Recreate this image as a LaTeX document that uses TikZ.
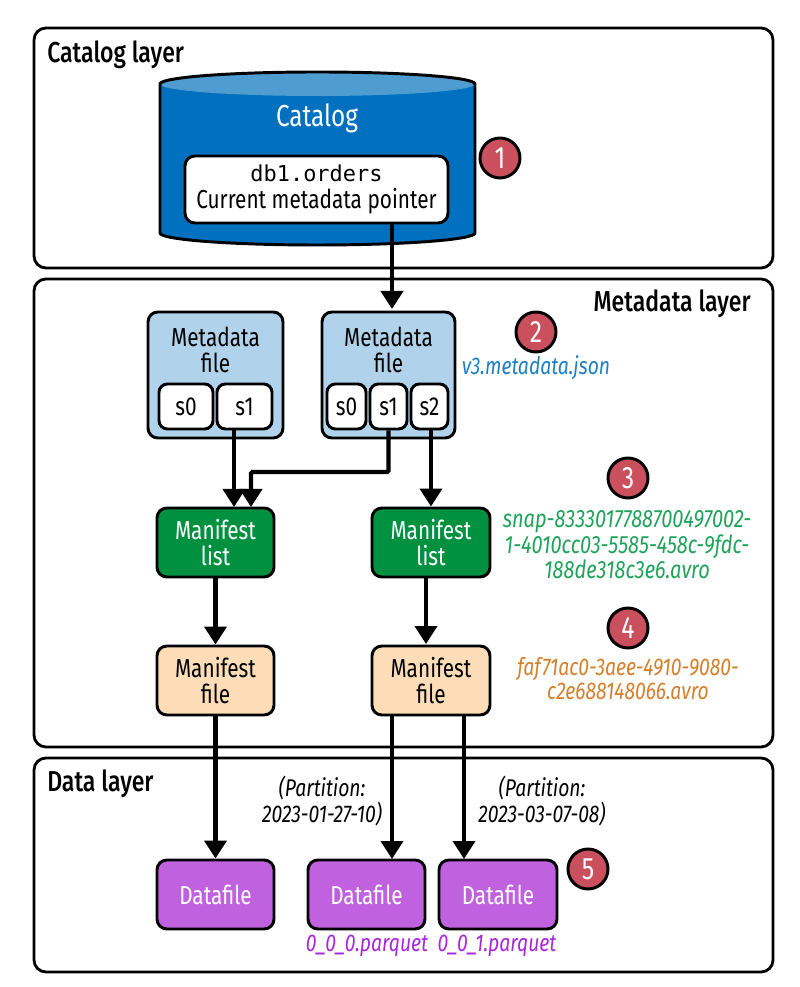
\documentclass[tikz,border=0pt]{standalone}
\usepackage{fontspec}
\setmainfont[FakeStretch=0.8, BoldFont={Fira Sans Medium}]{Fira Sans}
\setmonofont{DejaVu Sans Mono}
\usetikzlibrary{arrows.meta, positioning, calc}
\definecolor{catalogblue}{HTML}{0070BF}
\definecolor{catalogtop}{HTML}{4F9DD0}
\definecolor{metablue}{HTML}{B0D3EB}
\definecolor{listgreen}{HTML}{009140}
\definecolor{filepeach}{HTML}{FDDDB8}
\definecolor{datapurple}{HTML}{C062DF}
\definecolor{badgered}{HTML}{C9505C}
\definecolor{nameblue}{HTML}{1C7FC4}
\definecolor{namegreen}{HTML}{1FA35A}
\definecolor{nameorange}{HTML}{D67F2A}
\definecolor{namepurple}{HTML}{A826DC}
\begin{document}
\begin{tikzpicture}[
    >={Triangle[length=12.8pt,width=15.6pt]},
    lbl/.style={font=\fontsize{18.5}{19}\selectfont, align=center, inner sep=0pt},
    layertitle/.style={font=\fontsize{20.5}{24}\selectfont\bfseries, inner sep=0pt},
    layerbox/.style={draw, line width=2pt, rounded corners=8.5pt, minimum width=18.475cm},
    box/.style={draw, line width=2.1pt, rounded corners=7pt, lbl, minimum height=1.725cm},
    snapbox/.style={draw, line width=2.1pt, rounded corners=6pt, fill=white, lbl, minimum height=1.125cm},
    listbox/.style={box, fill=listgreen, text=white},
    filebox/.style={box, fill=filepeach},
    databox/.style={box, fill=datapurple, text=white},
    badge/.style={circle, draw, line width=2.1pt, fill=badgered, text=white, minimum size=1cm, inner sep=0pt, font=\fontsize{22}{24}\selectfont},
    fname/.style={font=\fontsize{17.2}{17}\selectfont\itshape, align=center, inner sep=0pt},
    link/.style={->, line width=3pt},
]
\useasboundingbox (0, 0) rectangle (20, 24.675);
% === Layer panels ===
\node[layerbox, minimum height=6cm] (catalogLayer) at (10.0875, 20.975) {};
\node[layerbox, minimum height=11.7cm] (metadataLayer) at (10.0875, 11.85) {};
\node[layerbox, minimum height=5.35cm] (dataLayer) at (10.0875, 3.05) {};
\node[layertitle, anchor=west] (catalogTitle) at (1.175, 23.3) {Catalog layer};
\node[layertitle, anchor=east] (metadataTitle) at (18.775, 17.075) {Metadata layer};
\node[layertitle, anchor=west] (dataTitle) at (1.175, 5.075) {Data layer};
% === Catalog cylinder ===
\fill[catalogblue] (4, 22.575) -- (4, 18.85) arc[start angle=180, end angle=360, x radius=3.9375, y radius=0.3] -- (11.875, 22.575) arc[start angle=0, end angle=180, x radius=3.9375, y radius=0.3];
\fill[catalogtop] (7.9375, 22.575) ellipse[x radius=3.9375, y radius=0.3];
\draw[line width=2.1pt] (4, 22.575) -- (4, 18.85) arc[start angle=180, end angle=360, x radius=3.9375, y radius=0.3] -- (11.875, 22.575) arc[start angle=0, end angle=180, x radius=3.9375, y radius=0.3] -- cycle;
\node[lbl, text=white, font=\fontsize{21.6}{24}\selectfont] (catalogName) at (7.925, 21.725) {Catalog};
\node[box, fill=white, minimum width=6.575cm, minimum height=1.675cm] (pointer) at (7.9125, 19.9375) {{\ttfamily\fontsize{15.6}{19}\selectfont db1.orders}\\Current metadata pointer};
\node[badge] (badgeOne) at (12.5, 20.725) {1};
% === Metadata files ===
\node[box, fill=metablue, minimum width=3.375cm, minimum height=3.15cm] (metaA) at (5.3875, 15.3) {};
\node[lbl] (metaAname) at (5.3875, 15.925) {Metadata\\file};
\node[snapbox, minimum width=1.35cm] (sZeroA) at (4.65, 14.5125) {s0};
\node[snapbox, minimum width=1.375cm] (sOneA) at (6.1125, 14.5125) {s1};
\node[box, fill=metablue, minimum width=3.325cm, minimum height=3.15cm] (metaB) at (9.7125, 15.3) {};
\node[lbl] (metaBname) at (9.7125, 15.925) {Metadata\\file};
\node[snapbox, minimum width=0.975cm] (sZeroB) at (8.6625, 14.5125) {s0};
\node[snapbox, minimum width=0.925cm] (sOneB) at (9.7125, 14.5125) {s1};
\node[snapbox, minimum width=0.925cm] (sTwoB) at (10.7375, 14.5125) {s2};
\node[badge] (badgeTwo) at (13.4, 16.375) {2};
\node[fname, nameblue] (metaFileName) at (13.4, 15.475) {v3.metadata.json};
% === Manifest lists ===
\node[listbox, minimum width=2.925cm] (listA) at (5.3875, 11.1125) {Manifest\\list};
\node[listbox, minimum width=2.95cm] (listB) at (10.775, 11.1125) {Manifest\\list};
\node[badge] (badgeThree) at (15.7, 12.725) {3};
\node[fname, namegreen, font=\fontsize{17.8}{17}\selectfont\itshape] (listFileName) at (15.675, 11.05) {snap-8333017788700497002-\\1-4010cc03-5585-458c-9fdc-\\188de318c3e6.avro};
% === Manifest files ===
\node[filebox, minimum width=2.925cm] (fileA) at (5.3875, 7.6625) {Manifest\\file};
\node[filebox, minimum width=2.95cm] (fileB) at (10.775, 7.6625) {Manifest\\file};
\node[badge] (badgeFour) at (15.7, 8.975) {4};
\node[fname, nameorange] (manifestFileName) at (15.7, 7.7) {faf71ac0-3aee-4910-9080-\\c2e688148066.avro};
% === Data files ===
\node[databox, minimum width=2.925cm] (dataA) at (5.3875, 2.3125) {Datafile};
\node[databox, minimum width=2.925cm] (dataB) at (9.1625, 2.3125) {Datafile};
\node[databox, minimum width=2.95cm] (dataC) at (12.45, 2.3125) {Datafile};
\node[badge] (badgeFive) at (14.7, 2.95) {5};
\node[fname, namepurple] (parquetB) at (9.175, 1.025) {0\_0\_0.parquet};
\node[fname, namepurple] (parquetC) at (12.425, 1.025) {0\_0\_1.parquet};
\node[fname, font=\fontsize{17.2}{19}\selectfont\itshape] (partitionB) at (8.05, 4.65) {(Partition:\\2023-01-27-10)};
\node[fname, font=\fontsize{17.2}{19}\selectfont\itshape] (partitionC) at (13.55, 4.65) {(Partition:\\2023-03-07-08)};
% === Connector ends away from the node centres ===
\coordinate (pointerOut) at (9.8, 18.1);
\coordinate (metaBin) at (9.8, 16.95);
\coordinate (listAleft) at (5.85, 12.0);
\coordinate (listAright) at (6.275, 12.0);
\coordinate (listAbend) at (6.275, 12.875);
\coordinate (fileBin) at (10.65, 8.575);
\coordinate (dataBin) at (9.8, 3.2);
\coordinate (dataCin) at (11.6, 3.2);
% === Arrows ===
\draw[link] (pointer.south -| pointerOut) -- (metaBin);
\draw[link] (sOneA.south -| listAleft) -- (listAleft);
\draw[link, rounded corners=1pt] (sOneB.south) |- (listAbend) -- (listAright);
\draw[link] (sTwoB.south -| listB.north) -- (listB.north);
\draw[link] (listA.south) -- (fileA.north);
\draw[link] (listB.south -| fileBin) -- (fileBin);
\draw[link] (fileA.south) -- (dataA.north);
\draw[link] (fileB.south -| dataBin) -- (dataBin);
\draw[link] (fileB.south -| dataCin) -- (dataCin);
\end{tikzpicture}
\end{document}
